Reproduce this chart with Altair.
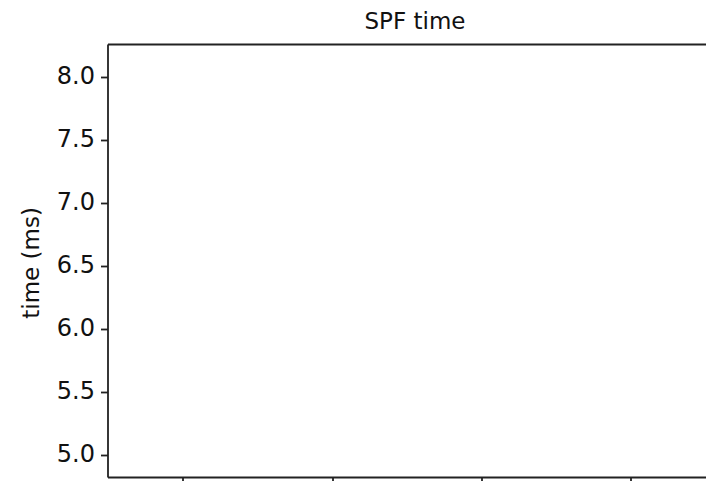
import altair as alt
import pandas as pd

# Empty chart: only axes, ticks and titles
x_ticks = [0, 1, 2, 3]
y_ticks = [5.0, 5.5, 6.0, 6.5, 7.0, 7.5, 8.0]
x_domain = [-0.505, 3.503]
y_domain = [4.8255, 8.259]

df = pd.DataFrame({"x": x_ticks, "y": [y_ticks[0]] * len(x_ticks)})

FONT = "DejaVu Sans"
W, H = 598.5, 433

xscale = alt.Scale(domain=x_domain, nice=False, zero=False)
yscale = alt.Scale(domain=y_domain, nice=False, zero=False)

base = alt.Chart(df).mark_point(opacity=0).encode(
    x=alt.X("x:Q", scale=xscale,
            axis=alt.Axis(orient="bottom", values=x_ticks, labels=False, title=None,
                          grid=False, tickSize=5, tickWidth=1.8, tickColor="#222",
                          domainColor="#222", domainWidth=1.8)),
    y=alt.Y("y:Q", scale=yscale,
            axis=alt.Axis(orient="left", values=y_ticks, format=".1f", title="time (ms)",
                          grid=False, tickSize=7, tickWidth=1.8, tickColor="#222",
                          domainColor="#222", domainWidth=1.8,
                          labelFont=FONT, labelFontSize=24, labelColor="#111",
                          labelPadding=6,
                          titleFont=FONT, titleFontSize=23, titleColor="#111",
                          titleFontWeight="normal",
                          titleX=-76, titleY=218.4, titleBaseline="middle",
                          titleAlign="center", titleAngle=270)),
)

# top frame line, carrying the chart title
top = alt.Chart(df).mark_point(opacity=0).encode(
    x=alt.X("x:Q", scale=xscale,
            axis=alt.Axis(orient="top", ticks=False, labels=False, title="SPF time",
                          grid=False, domainColor="#222", domainWidth=1.8,
                          titleFont=FONT, titleFontSize=23, titleColor="#111",
                          titleFontWeight="normal", titleX=307, titleY=-16,
                          titleBaseline="alphabetic", titleAlign="center",
                          titleAngle=0)),
)

chart = alt.layer(base, top).resolve_axis(x="independent").properties(
    width=W,
    height=H,
    autosize=alt.AutoSizeParams(type="none"),
    padding={"left": 99.5, "top": 36, "right": 0, "bottom": 4},
).configure_view(stroke=None).configure(background="white")

chart.save("out.html", embed_options={"renderer": "svg", "actions": False})
